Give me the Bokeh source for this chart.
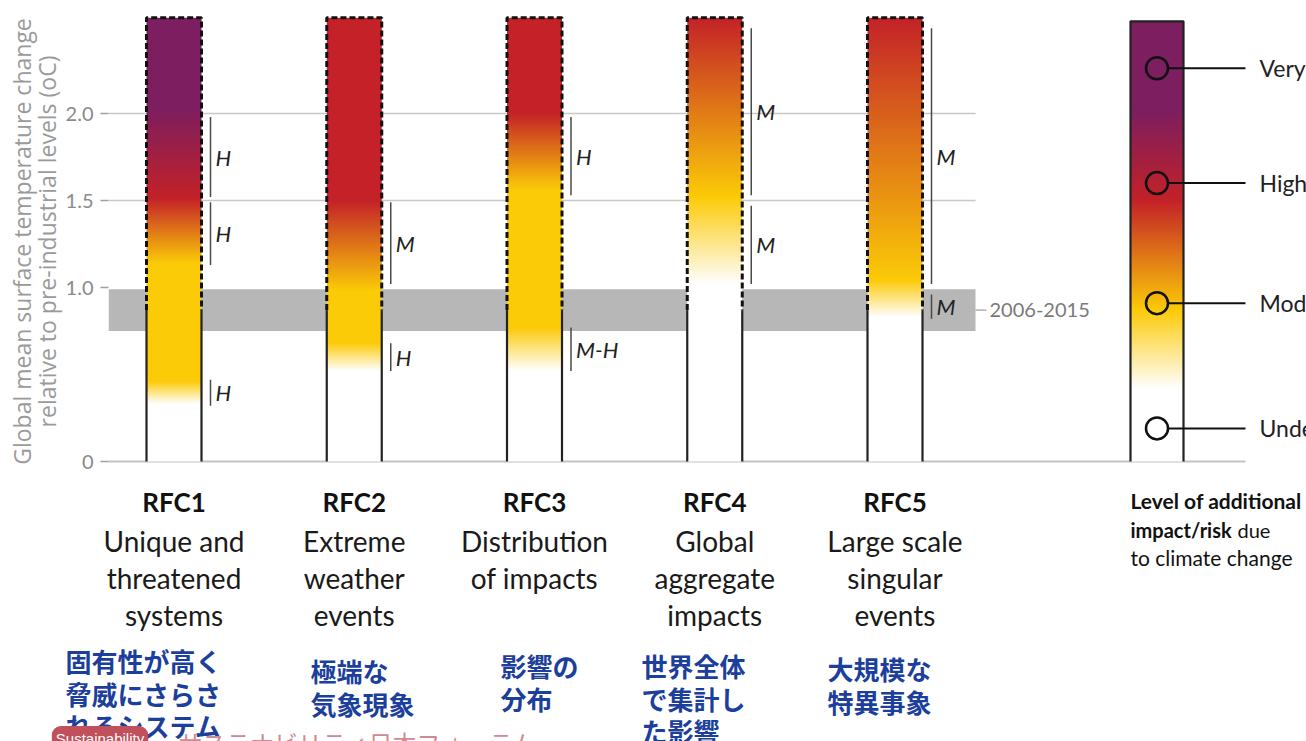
import numpy as np
from bokeh.plotting import figure
from bokeh.layouts import column
from bokeh.models import Range1d, FixedTicker, Label, ColumnDataSource
from bokeh.core.properties import value
from bokeh.embed import file_html
from bokeh.resources import INLINE

# ---------------- data ----------------
rfc_codes = ["RFC1", "RFC2", "RFC3", "RFC4", "RFC5"]
rfc_names = [["Unique and", "threatened", "systems"],
             ["Extreme", "weather", "events"],
             ["Distribution", "of impacts"],
             ["Global", "aggregate", "impacts"],
             ["Large scale", "singular", "events"]]
rfc_names_ja = [["固有性が高く", "脅威にさらさ", "れるシステム"],
                ["極端な", "気象現象"],
                ["影響の", "分布"],
                ["世界全体", "で集計し", "た影響"],
                ["大規模な", "特異事象"]]

# risk transitions: (temperature °C, risk level) 0=undetectable 1=moderate 2=high 3=very high
rfc1_transitions = [(0.33, 0), (0.46, 1), (1.14, 1), (1.51, 2), (2.03, 3)]
rfc2_transitions = [(0.52, 0), (0.68, 1), (0.98, 1), (1.50, 2)]
rfc3_transitions = [(0.52, 0), (0.77, 1), (1.56, 1), (2.00, 2)]
rfc4_transitions = [(1.02, 0), (1.52, 1), (2.55, 2)]
rfc5_transitions = [(0.83, 0), (1.04, 1), (2.55, 2)]
column_top = 2.55

observed_warming = 0.87
observed_low = 0.75
observed_high = 0.99
period_label = "2006-2015"

confidence_rfc = [0, 0, 0, 1, 1, 2, 2, 3, 3, 4, 4]
confidence_lo = [1.52, 1.13, 0.32, 1.02, 0.52, 1.53, 0.52, 1.53, 1.02, 1.02, 0.82]
confidence_hi = [1.98, 1.49, 0.47, 1.49, 0.68, 1.98, 0.77, 2.49, 1.47, 2.49, 0.96]
confidence_txt = ["H", "H", "H", "M", "H", "H", "M-H", "M", "M", "M", "M"]

levels = ["Very high", "High", "Moderate", "Undetectable"]
legend_transitions = [(0.42, 0), (0.87, 1), (1.50, 2), (2.02, 3)]
legend_marker_temps = [2.26, 1.60, 0.91, 0.19]
legend_top = 2.53

y_ticks = [0, 1.0, 1.5, 2.0]
y_tick_labels = ["0", "1.0", "1.5", "2.0"]

# ---------------- layout helpers ----------------
PX_X = 180.25
PX_Y = 174.0
def X(px):
    return (px - 173.5) / PX_X
def Y(py):
    return (461.0 - py) / PX_Y

W, H, SPLIT = 1306, 741, 482
COL_W = 55 / PX_X
SANS = "Lato"
CJK = "Noto Sans CJK JP"

LEVEL_RGB = np.array([[255, 255, 255], [252, 203, 8], [196, 34, 40], [124, 30, 96]], float)

def gradient_image(transitions, top, rows=600):
    t = np.array([a for a, _ in transitions])
    cols = LEVEL_RGB[[b for _, b in transitions]]
    ys = np.linspace(0, top, rows)
    img = np.empty((rows, 2), dtype=np.uint32)
    view = img.view(dtype=np.uint8).reshape((rows, 2, 4))
    for k in range(3):
        view[:, :, k] = np.interp(ys, t, cols[:, k])[:, None].astype(np.uint8)
    view[:, :, 3] = 255
    return img

# ================= chart =================
p = figure(width=W, height=SPLIT,
           x_range=Range1d(X(108), X(W)), y_range=Range1d(Y(SPLIT), Y(0)),
           output_backend="svg", toolbar_location=None, frame_align=False,
           min_border_left=108, min_border_right=0, min_border_top=0, min_border_bottom=0)
p.xaxis.visible = False
p.xgrid.visible = False
p.ygrid.visible = False
p.outline_line_color = None

ax = p.yaxis[0]
ax.ticker = FixedTicker(ticks=y_ticks)
ax.major_label_overrides = {t: l for t, l in zip(y_ticks, y_tick_labels)}
ax.axis_line_color = None
ax.major_tick_line_color = "#a0a0a0"
ax.major_tick_line_width = 1.5
ax.major_tick_out = 8
ax.major_tick_in = 0
ax.minor_tick_line_color = None
ax.major_label_text_font = SANS
ax.major_label_text_font_size = "20px"
ax.major_label_text_color = "#8a8a8a"
ax.major_label_standoff = 7
ax.axis_label = "Global mean surface temperature change\nrelative to pre-industrial levels (oC)"
ax.axis_label_text_font = "Open Sans"
ax.axis_label_text_font_size = "23px"
ax.axis_label_text_font_style = "normal"
ax.axis_label_text_line_height = 0.78
ax.axis_label_text_color = "#9a9a9a"
ax.axis_label_standoff = 0

# background band and reference lines
p.quad(left=X(108), right=X(975), bottom=observed_low, top=observed_high,
       fill_color="#b7b7b7", line_color=None)
p.segment(x0=[X(108), X(108)], x1=[X(975), X(975)], y0=[1.5, 2.0], y1=[1.5, 2.0],
          line_color="#c8c8c8", line_width=1.5)
p.segment(x0=X(105), x1=X(1245), y0=0, y1=0, line_color="#c4c4c4", line_width=2)
p.segment(x0=X(975), x1=X(986), y0=observed_warming, y1=observed_warming,
          line_color="#b0b0b0", line_width=1.5)
p.text(x=[X(989)], y=[observed_warming], text=[period_label], text_font=value(SANS),
       text_font_size="20px", text_color="#7a7a7a", text_baseline="middle", text_align="left")

# gradient columns
all_transitions = [rfc1_transitions, rfc2_transitions, rfc3_transitions,
                   rfc4_transitions, rfc5_transitions]
xc = list(range(len(rfc_codes)))
src = ColumnDataSource(dict(
    image=[gradient_image(tr, column_top) for tr in all_transitions],
    x=[x - COL_W / 2 for x in xc], y=[0] * len(xc),
    dw=[COL_W] * len(xc), dh=[column_top] * len(xc)))
p.image_rgba(image="image", x="x", y="y", dw="dw", dh="dh", source=src)

# outlines: dashed above observed warming, solid below
p.multi_line(xs=[[x - COL_W / 2, x - COL_W / 2, x + COL_W / 2, x + COL_W / 2] for x in xc],
             ys=[[observed_warming, column_top, column_top, observed_warming] for _ in xc],
             line_color="#111111", line_width=3, line_dash="6 3")
p.segment(x0=[x + s * COL_W / 2 for x in xc for s in (-1, 1)],
          x1=[x + s * COL_W / 2 for x in xc for s in (-1, 1)],
          y0=0, y1=observed_warming, line_color="#222222", line_width=2.2)

# confidence bars
cx = [xc[i] + COL_W / 2 + 9 / PX_X for i in confidence_rfc]
p.segment(x0=cx, x1=cx, y0=confidence_lo, y1=confidence_hi, line_color="#4a4a4a", line_width=1.5)
p.text(x=[c + 5 / PX_X for c in cx], y=[(a + b) / 2 for a, b in zip(confidence_lo, confidence_hi)],
       text=confidence_txt, text_font=value(SANS), text_font_size="22px", text_font_style="italic",
       text_color="#222222", text_baseline="middle", text_align="left")

# legend bar
LX = X(1156.5)
LW = 53 / PX_X
lsrc = ColumnDataSource(dict(image=[gradient_image(legend_transitions, legend_top)],
                             x=[LX - LW / 2], y=[0], dw=[LW], dh=[legend_top]))
p.image_rgba(image="image", x="x", y="y", dw="dw", dh="dh", source=lsrc)
p.line(x=[LX - LW / 2, LX - LW / 2, LX + LW / 2, LX + LW / 2],
       y=[0, legend_top, legend_top, 0], line_color="#222222", line_width=2.2)
p.segment(x0=[LX + 11 / PX_X] * 4, x1=[X(1245)] * 4, y0=legend_marker_temps, y1=legend_marker_temps,
          line_color="#111111", line_width=2)
p.scatter(x=[LX] * 4, y=legend_marker_temps, size=22, marker="circle",
          fill_color=[None, None, None, "white"], line_color="#111111", line_width=2.5)
p.text(x=[X(1259)] * 4, y=legend_marker_temps, text=levels, text_font=value(SANS),
       text_font_size="23px", text_color="#222222", text_baseline="middle", text_align="left")

# ================= captions below =================
q = figure(width=W, height=H - SPLIT,
           x_range=Range1d(X(0), X(W)), y_range=Range1d(Y(H), Y(SPLIT)),
           output_backend="svg", toolbar_location=None, frame_align=False,
           min_border_left=0, min_border_right=0, min_border_top=0, min_border_bottom=0)
q.axis.visible = False
q.grid.visible = False
q.outline_line_color = None

def txt(x, y, text, **kw):
    opts = dict(text_baseline="middle", text_align="center", text_font=value(SANS),
                text_font_size="28px", text_color="#1a1a1a")
    opts.update(kw)
    q.text(x=[x], y=[y], text=[text], **opts)

name_rows = [540, 577, 614]
ja_left = [65, 310, 500, 641, 827]
ja_top = [660, 670, 665, 665, 668]
for i, code in enumerate(rfc_codes):
    txt(xc[i], Y(501), code, text_font_size="26px", text_font_style="bold", text_color="#111111")
    for j, line in enumerate(rfc_names[i]):
        txt(xc[i], Y(name_rows[j]), line)
    for j, line in enumerate(rfc_names_ja[i]):
        txt(X(ja_left[i]), Y(ja_top[i] + 32.5 * j), line, text_align="left", text_font=value(CJK),
            text_font_size="26px", text_font_style="bold", text_color="#1c3f9c")

txt(X(1130), Y(500), "Level of additional", text_align="left", text_font_size="21px",
    text_font_style="bold", text_color="#111111")
txt(X(1130), Y(529), "impact/risk", text_align="left", text_font_size="20px",
    text_font_style="bold", text_color="#111111")
txt(X(1237), Y(529), "due", text_align="left", text_font_size="20px", text_color="#111111")
txt(X(1130), Y(557), "to climate change", text_align="left", text_font_size="21px",
    text_color="#111111")

# watermark
q.add_layout(Label(x=X(99.5), y=Y(738), text="Sustainability", text_align="center",
                   text_baseline="middle", text_font="Liberation Sans",
                   text_font_size="15px", text_color="white",
                   background_fill_color="#c0505c", border_radius=9, padding=4))
txt(X(178), Y(742), "サステナビリティ日本フォーラム", text_align="left", text_font=value(CJK),
    text_font_size="24px", text_color="#d28a92")

open("out.html", "w").write(file_html(column(p, q, spacing=0), INLINE))
